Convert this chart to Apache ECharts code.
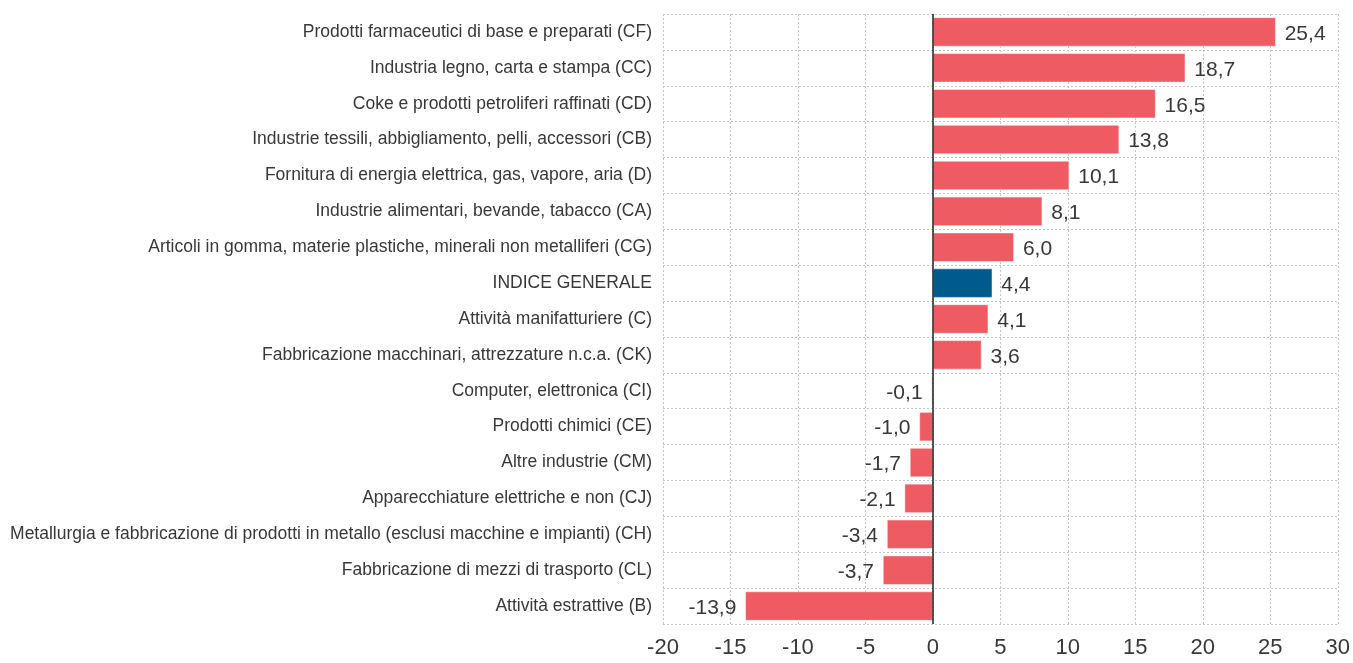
<!DOCTYPE html>
<html><head><meta charset="utf-8">
<script src="https://cdn.jsdelivr.net/npm/echarts@6/dist/echarts.min.js"></script>
<style>html,body{margin:0;padding:0;background:#fff}#c{width:1353px;height:663px}</style>
</head><body><div id="c"></div>
<script>
const categories = [
 "Prodotti farmaceutici di base e preparati (CF)",
 "Industria legno, carta e stampa (CC)",
 "Coke e prodotti petroliferi raffinati (CD)",
 "Industrie tessili, abbigliamento, pelli, accessori (CB)",
 "Fornitura di energia elettrica, gas, vapore, aria (D)",
 "Industrie alimentari, bevande, tabacco (CA)",
 "Articoli in gomma, materie plastiche, minerali non metalliferi (CG)",
 "INDICE GENERALE",
 "Attività manifatturiere (C)",
 "Fabbricazione macchinari, attrezzature n.c.a. (CK)",
 "Computer, elettronica (CI)",
 "Prodotti chimici (CE)",
 "Altre industrie (CM)",
 "Apparecchiature elettriche e non (CJ)",
 "Metallurgia e fabbricazione di prodotti in metallo (esclusi macchine e impianti) (CH)",
 "Fabbricazione di mezzi di trasporto (CL)",
 "Attività estrattive (B)"
];
const values = [25.4, 18.7, 16.5, 13.8, 10.1, 8.1, 6.0, 4.4, 4.1, 3.6, -0.1, -1.0, -1.7, -2.1, -3.4, -3.7, -13.9];
const highlight = "INDICE GENERALE";
const xTicks = {min: -20, max: 30, interval: 5};

const FONT = '"Liberation Sans Narrow", "Arial Narrow", "Liberation Sans", sans-serif';
const fmt = v => v.toFixed(1).replace('.', ',');
const data = values.map((v, i) => ({
  value: v,
  itemStyle: {color: categories[i] === highlight ? '#005A8C' : '#EF5B62'},
  label: {position: v < 0 ? 'left' : 'right'}
}));
const chart = echarts.init(document.getElementById('c'));
chart.setOption({
  animation: false,
  grid: {left: 663, right: 15, top: 14, bottom: 39, containLabel: false},
  xAxis: {
    type: 'value', min: xTicks.min, max: xTicks.max, interval: xTicks.interval,
    axisLine: {show: false}, axisTick: {show: false},
    axisLabel: {fontFamily: FONT, fontSize: 22, color: '#383838', margin: 13},
    splitLine: {show: true, showMinLine: true, showMaxLine: true, lineStyle: {color: '#c4c4c4', type: [2, 2], width: 1}}
  },
  yAxis: {
    type: 'category', data: categories, inverse: true,
    axisLine: {show: false}, axisTick: {show: false},
    axisLabel: {fontFamily: FONT, fontSize: 17.5, color: '#383838', margin: 11},
    splitLine: {show: true, lineStyle: {color: '#c4c4c4', type: [2, 2], width: 1}}
  },
  series: [{
    type: 'bar', data: data, barCategoryGap: '19%',
    itemStyle: {borderColor: '#fff', borderWidth: 0.5},
    label: {show: true, formatter: p => fmt(p.value), fontFamily: FONT, fontSize: 21, color: '#383838', distance: 9, offset: [0, 2]},
    markLine: {
      silent: true, symbol: 'none', label: {show: false},
      lineStyle: {color: '#222', type: 'solid', width: 1.5},
      data: [{xAxis: 0}]
    }
  }]
});
</script></body></html>
